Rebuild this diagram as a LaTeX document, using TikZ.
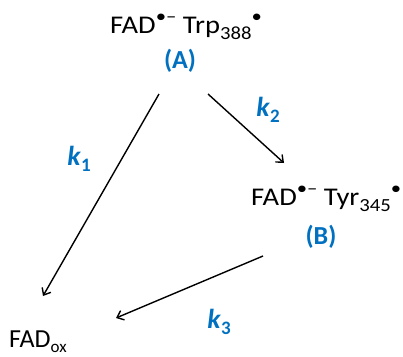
\documentclass[tikz,border=0pt]{standalone}
\usepackage{fontspec}
\setmainfont{Carlito}
\newfontfamily\widefont[FakeStretch=1.12]{Carlito}
\usetikzlibrary{arrows.meta}
\definecolor{rateblue}{HTML}{0070C0}
\newcommand{\sub}[1]{\raisebox{-0.22em}{\fontsize{17}{17}\selectfont #1}}
\newcommand{\ksub}[1]{\raisebox{-0.24em}{\fontsize{19}{19}\selectfont #1}}
\newcommand{\wsub}[1]{\raisebox{-0.25em}{\fontsize{18.5}{18.5}\selectfont #1}}
\newcommand{\rad}{\raisebox{0.42em}{\fontsize{18.5}{18.5}\selectfont •}}
\newcommand{\radan}{\raisebox{0.42em}{\fontsize{18.5}{18.5}\selectfont •–}}
\tikzset{
  species/.style={inner sep=0pt, font=\widefont\fontsize{25.5}{30}\selectfont},
  product/.style={inner sep=0pt, font=\fontsize{26}{30}\selectfont},
  tag/.style={inner sep=0pt, text=rateblue, font=\fontsize{26}{30}\selectfont\bfseries},
  rate/.style={inner sep=0pt, text=rateblue, font=\fontsize{27.5}{30}\selectfont\bfseries},
  step arrow/.style={line width=1.4pt, -{Straight Barb[length=6pt,width=10pt,line width=1.4pt]}}
}
\begin{document}
\begin{tikzpicture}[x=1pt,y=-1pt]
\useasboundingbox (0,0) rectangle (403,356);
% species
\node[species, anchor=base west] (A) at (110,33) {FAD\radan\ Trp\wsub{388}\rad};
\node[tag, anchor=base] (Alab) at (180,68) {(A)};
\node[species, anchor=base west] (B) at (251,205) {FAD\radan\ Tyr\wsub{345}\rad};
\node[tag, anchor=base] (Blab) at (321,244) {(B)};
\node[product, anchor=base west] (O) at (9,347) {FAD\sub{ox}};
% rate constants
\node[rate] (k1) at (79,159) {\textit{k}\ksub{1}};
\node[rate] (k2) at (268,110) {\textit{k}\ksub{2}};
\node[rate] (k3) at (219,322) {\textit{k}\ksub{3}};
% arrow ends
\coordinate (a1s) at (159,94);
\coordinate (a1e) at (43,296);
\coordinate (a2s) at (208,94);
\coordinate (a2e) at (284,163);
\coordinate (a3s) at (263,256);
\coordinate (a3e) at (116,318);
\draw[step arrow] (a1s) -- (a1e);
\draw[step arrow] (a2s) -- (a2e);
\draw[step arrow] (a3s) -- (a3e);
\end{tikzpicture}
\end{document}
